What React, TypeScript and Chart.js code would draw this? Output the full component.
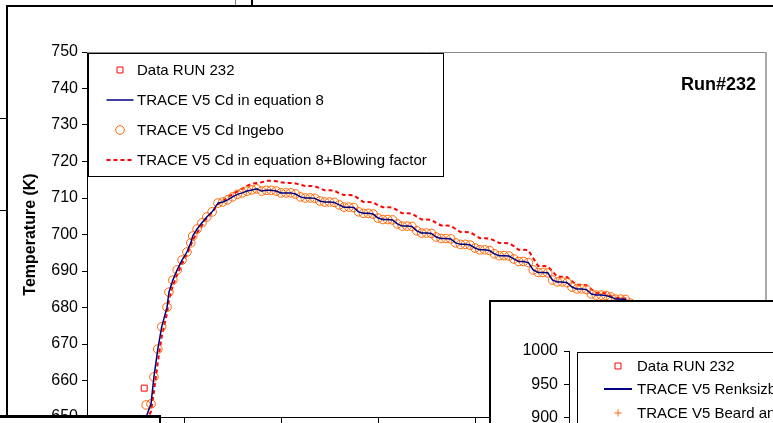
import React, { useEffect, useRef } from 'react';
import { Chart, registerables } from 'chart.js';

Chart.register(...registerables);

const FONT = '"Liberation Sans", Arial, sans-serif';

// ---------- main chart data (time axis 0..700, temperature K) ----------
const dataT = [59];
const dataK = [657.9];

const timeS = [
  61, 66, 69, 73, 77, 82.5, 84.5, 88.5, 93, 98, 103, 107, 109, 113.5, 118.5, 123.5, 129, 135,
  140, 145, 150, 155, 160, 165, 170, 175, 180, 185, 190, 195,
  200, 205, 210, 215, 220, 225, 230, 235, 240, 245, 250, 255, 260, 265, 270, 275,
  280, 285, 290, 295, 300, 305, 310, 315, 320, 325, 330, 335, 340, 345, 350, 355,
  360, 365, 370, 375, 380, 385, 390, 395, 400, 405, 410, 415, 420, 425, 430, 435,
  440, 445, 450, 455, 460, 465, 470, 475, 480, 485, 490, 495, 500, 505, 510, 515,
  520, 525, 530, 535, 540, 545, 550, 555, 560, 565, 570, 575, 580, 585, 590, 595,
];

const cdEq8K = [
  650.0, 653.6, 661.0, 668.6, 674.7, 680.1, 684.2, 687.5, 690.3, 693.0, 695.2, 697.7, 699.6, 701.5, 703.2, 704.8, 706.2, 708.6,
  708.9, 709.5, 710.3, 711.0, 711.4, 711.9, 712.2, 712.5, 711.9, 712.1, 712.1, 711.9,
  711.4, 711.4, 711.4, 711.1, 710.3, 710.0, 710.0, 709.9, 709.2, 708.9, 708.9, 708.8, 708.1, 707.5, 707.5, 707.4,
  706.2, 705.8, 705.8, 705.6, 704.5, 704.1, 704.1, 704.0, 702.9, 702.3, 702.3, 702.2, 701.0, 700.4, 700.4, 700.3,
  699.3, 698.9, 698.9, 698.8, 697.7, 697.3, 697.3, 697.1, 696.3, 695.8, 695.8, 695.6, 694.7, 694.2, 694.2, 694.1,
  693.3, 692.6, 692.6, 692.3, 690.3, 689.6, 689.6, 689.5, 687.5, 687.0, 687.0, 686.8, 685.6, 685.1, 685.1, 684.9,
  683.7, 683.4, 683.4, 683.3, 682.9, 682.3, 682.3, 682.2, 681.2, 680.4, 680.4, 680.3, 679.0, 678.5, 678.5, 678.2,
];

const ingeboK = [
  653.3, 653.6, 661.0, 668.6, 674.7, 680.1, 684.2, 687.5, 690.3, 693.0, 695.2, 697.7, 699.6, 701.5, 703.2, 704.8, 706.2, 708.6,
  708.9, 709.5, 710.3, 711.0, 711.4, 711.9, 712.2, 712.5, 711.9, 712.1, 712.1, 711.9,
  711.4, 711.4, 711.4, 711.1, 710.3, 710.0, 710.0, 709.9, 709.2, 708.9, 708.9, 708.8, 708.1, 707.5, 707.5, 707.4,
  706.2, 705.8, 705.8, 705.6, 704.5, 704.1, 704.1, 704.0, 702.9, 702.3, 702.3, 702.2, 701.0, 700.4, 700.4, 700.3,
  699.3, 698.9, 698.9, 698.8, 697.7, 697.3, 697.3, 697.1, 696.3, 695.8, 695.8, 695.6, 694.7, 694.2, 694.2, 694.1,
  693.3, 692.6, 692.6, 692.3, 690.3, 689.6, 689.6, 689.5, 687.5, 687.0, 687.0, 686.8, 685.6, 685.1, 685.1, 684.9,
  683.7, 683.4, 683.4, 683.3, 682.9, 682.3, 682.3, 682.2, 681.2, 680.4, 680.4, 680.3, 679.0, 678.5, 678.5, 678.2,
];

const blowK = [
  649.0, 651.5, 657.0, 665.0, 672.0, 678.5, 682.0, 686.0, 689.0, 692.0, 694.5, 697.0, 698.5, 700.5, 702.5, 704.5, 706.0, 708.3,
  709.2, 710.2, 711.0, 711.8, 712.6, 713.3, 713.9, 714.1, 714.3, 714.7, 714.7, 714.6,
  714.3, 714.1, 714.1, 714.0, 713.6, 713.3, 713.3, 713.2, 712.7, 712.1, 712.1, 712.0, 711.3, 710.8, 710.8, 710.7,
  709.8, 708.9, 708.9, 708.8, 708.0, 707.5, 707.5, 707.4, 706.6, 705.8, 705.8, 705.7, 704.9, 704.1, 704.1, 704.0,
  703.2, 702.5, 702.5, 702.4, 701.5, 700.7, 700.7, 700.6, 699.8, 699.0, 699.0, 698.9, 698.3, 697.7, 697.7, 697.6,
  696.8, 695.8, 695.8, 695.7, 693.5, 691.4, 691.4, 691.3, 689.8, 688.4, 688.4, 688.3, 687.2, 686.2, 686.2, 686.1,
  685.0, 684.0, 684.0, 683.9, 683.2, 682.6, 682.6, 682.5, 681.7, 681.0, 681.0, 680.9, 679.8, 679.3, 679.3, 679.2,
];

const mainLabels = [
  'Data RUN 232',
  'TRACE V5 Cd in equation 8',
  'TRACE V5 Cd Ingebo',
  'TRACE V5 Cd in equation 8+Blowing factor',
];
const mainTitle = 'Run#232';
const yTitle = 'Temperature (K)';

// ---------- second (overlapping) chart ----------
const subLabels = ['Data RUN 232', 'TRACE V5 Renksizbulut-Yuen', 'TRACE V5 Beard and Pruppacher'];
const subDataT: number[] = [];
const subDataK: number[] = [];
const subRenkK: number[] = [];
const subBeardK: number[] = [];

const pts = (xs: number[], ys: number[]) => xs.map((x, i) => ({ x, y: ys[i] }));

function drawEntry(ctx: CanvasRenderingContext2D, ds: any, y: number, symX: number, half: number, textX: number) {
  ctx.save();
  if (ds.showLine) {
    ctx.strokeStyle = ds.borderColor;
    ctx.lineWidth = ds.borderWidth;
    ctx.setLineDash(ds.borderDash || []);
    ctx.beginPath();
    ctx.moveTo(symX - half, y);
    ctx.lineTo(symX + half, y);
    ctx.stroke();
  } else {
    ctx.setLineDash([]);
    ctx.strokeStyle = ds.pointBorderColor;
    ctx.lineWidth = ds.pointBorderWidth;
    const r = ds.pointRadius;
    ctx.beginPath();
    if (ds.pointStyle === 'rect') {
      const s = r * Math.SQRT1_2;
      ctx.rect(symX - s, y - s, 2 * s, 2 * s);
    } else if (ds.pointStyle === 'cross') {
      ctx.moveTo(symX - r, y);
      ctx.lineTo(symX + r, y);
      ctx.moveTo(symX, y - r);
      ctx.lineTo(symX, y + r);
    } else {
      ctx.arc(symX, y, r, 0, Math.PI * 2);
    }
    ctx.stroke();
  }
  ctx.setLineDash([]);
  ctx.fillStyle = '#000';
  ctx.font = `15px ${FONT}`;
  ctx.textAlign = 'left';
  ctx.textBaseline = 'middle';
  ctx.fillText(ds.label, textX, y + 1);
  ctx.restore();
}

const mainDecor = {
  id: 'mainDecor',
  beforeDatasetsDraw(chart: any) {
    const { ctx, chartArea: a } = chart;
    ctx.save();
    ctx.strokeStyle = '#8c8c8c';
    ctx.lineWidth = 1;
    ctx.beginPath();
    ctx.moveTo(a.left, a.top + 0.5);
    ctx.lineTo(a.right, a.top + 0.5);
    ctx.stroke();
    ctx.strokeStyle = '#a8a8a8';
    ctx.lineWidth = 2;
    ctx.beginPath();
    ctx.moveTo(a.right, a.top);
    ctx.lineTo(a.right, a.bottom);
    ctx.stroke();
    ctx.restore();
  },
  afterDraw(chart: any) {
    const { ctx, chartArea: a } = chart;
    ctx.save();
    const bx = Math.round(a.left + 1) + 0.5;
    const by = Math.round(a.top + 1) + 0.5;
    ctx.fillStyle = '#fff';
    ctx.fillRect(bx, by, 355, 123);
    ctx.strokeStyle = '#000';
    ctx.lineWidth = 1;
    ctx.strokeRect(bx, by, 355, 123);
    chart.data.datasets.forEach((ds: any, i: number) => {
      drawEntry(ctx, ds, a.top + 18 + i * 30, a.left + 33, 13.5, a.left + 50);
    });
    ctx.fillStyle = '#000';
    ctx.font = `bold 18px ${FONT}`;
    ctx.textAlign = 'right';
    ctx.textBaseline = 'middle';
    ctx.fillText(mainTitle, a.right - 10, a.top + 33);
    ctx.restore();
  },
};

const subDecor = {
  id: 'subDecor',
  afterDraw(chart: any) {
    const { ctx, chartArea: a } = chart;
    ctx.save();
    const bx = Math.round(a.left + 8) + 0.5;
    const by = Math.round(a.top + 1) + 0.5;
    ctx.fillStyle = '#fff';
    ctx.fillRect(bx, by, 400, 150);
    ctx.strokeStyle = '#000';
    ctx.lineWidth = 1;
    ctx.strokeRect(bx, by, 400, 150);
    const ys = [15, 38, 62];
    chart.data.datasets.forEach((ds: any, i: number) => {
      drawEntry(ctx, ds, a.top + ys[i], a.left + 49, 14, a.left + 68);
    });
    ctx.restore();
  },
};

const abs = (l: number, t: number, w: number, h: number, extra: any = {}) => ({
  position: 'absolute' as const,
  left: l,
  top: t,
  width: w,
  height: h,
  boxSizing: 'border-box' as const,
  ...extra,
});

const fixY = (w: number) => (s: any) => {
  s.width = w;
  s.paddingTop = 0;
  s.paddingBottom = 0;
};
const fixX = (s: any) => {
  s.height = 6;
  s.paddingLeft = 0;
  s.paddingRight = 0;
};

export default function App() {
  const mainRef = useRef<HTMLCanvasElement>(null);
  const subRef = useRef<HTMLCanvasElement>(null);

  useEffect(() => {
    const main = new Chart(mainRef.current as HTMLCanvasElement, {
      type: 'scatter',
      data: {
        datasets: [
          {
            label: mainLabels[0],
            data: pts(dataT, dataK),
            showLine: false,
            pointStyle: 'rect',
            pointRadius: 4.2,
            pointBorderColor: '#FF0000',
            pointBackgroundColor: 'rgba(0,0,0,0)',
            pointBorderWidth: 1,
          },
          {
            label: mainLabels[1],
            data: pts(timeS, cdEq8K),
            showLine: true,
            borderColor: '#000080',
            borderWidth: 1.5,
            pointRadius: 0,
          },
          {
            label: mainLabels[2],
            data: pts(timeS, ingeboK),
            showLine: false,
            pointStyle: 'circle',
            pointRadius: 4.3,
            pointBorderColor: '#FF6600',
            pointBackgroundColor: 'rgba(0,0,0,0)',
            pointBorderWidth: 1,
          },
          {
            label: mainLabels[3],
            data: pts(timeS, blowK),
            showLine: true,
            borderColor: '#FF0000',
            borderWidth: 2,
            borderDash: [4, 3],
            pointRadius: 0,
          },
        ] as any,
      },
      options: {
        responsive: false,
        animation: false,
        events: [],
        layout: { padding: { top: 45, right: 7, left: 0, bottom: 0 } },
        plugins: { legend: { display: false }, tooltip: { enabled: false } },
        scales: {
          x: {
            type: 'linear',
            min: 0,
            max: 700,
            ticks: { display: false, stepSize: 100 },
            grid: { drawOnChartArea: false, drawTicks: true, tickLength: 6, color: '#000' },
            border: { display: true, color: '#000', width: 1 },
            afterFit: fixX,
          },
          y: {
            min: 650,
            max: 750,
            ticks: {
              stepSize: 10,
              color: '#000',
              font: { family: FONT, size: 16 },
              padding: 4,
              callback: (v: any) => String(v),
            },
            grid: { drawOnChartArea: false, tickLength: 5, color: '#000' },
            border: { display: true, color: '#000', width: 1 },
            title: {
              display: true,
              text: yTitle,
              color: '#000',
              font: { family: FONT, size: 16, weight: 'bold' },
              padding: { top: 13, bottom: 0 },
            },
            afterFit: fixY(79),
          },
        },
      } as any,
      plugins: [mainDecor],
    });

    const sub = new Chart(subRef.current as HTMLCanvasElement, {
      type: 'scatter',
      data: {
        datasets: [
          {
            label: subLabels[0],
            data: pts(subDataT, subDataK),
            showLine: false,
            pointStyle: 'rect',
            pointRadius: 4.2,
            pointBorderColor: '#FF0000',
            pointBackgroundColor: 'rgba(0,0,0,0)',
            pointBorderWidth: 1,
          },
          {
            label: subLabels[1],
            data: pts(subDataT, subRenkK),
            showLine: true,
            borderColor: '#000080',
            borderWidth: 2,
            pointRadius: 0,
          },
          {
            label: subLabels[2],
            data: pts(subDataT, subBeardK),
            showLine: false,
            pointStyle: 'cross',
            pointRadius: 3.5,
            pointBorderColor: '#FF6600',
            pointBorderWidth: 1,
          },
        ] as any,
      },
      options: {
        responsive: false,
        animation: false,
        events: [],
        layout: { padding: { top: 49, right: 0, left: 0, bottom: 0 } },
        plugins: { legend: { display: false }, tooltip: { enabled: false } },
        scales: {
          x: {
            type: 'linear',
            min: 0,
            max: 700,
            ticks: { display: false, stepSize: 100 },
            grid: { drawOnChartArea: false, tickLength: 6, color: '#000' },
            border: { display: true, color: '#000', width: 1 },
            afterFit: fixX,
          },
          y: {
            min: 500,
            max: 1000,
            ticks: {
              stepSize: 50,
              color: '#000',
              font: { family: FONT, size: 16 },
              padding: 6,
              callback: (v: any) => String(v),
            },
            grid: { drawOnChartArea: false, tickLength: 5, color: '#000' },
            border: { display: true, color: '#000', width: 1 },
            afterFit: fixY(78),
          },
        },
      } as any,
      plugins: [subDecor],
    });

    return () => {
      main.destroy();
      sub.destroy();
    };
  }, []);

  return (
    <div
      style={{
        position: 'fixed',
        left: 0,
        top: 0,
        width: 773,
        height: 423,
        overflow: 'hidden',
        background: '#fff',
        fontFamily: FONT,
      }}
    >
      {/* background window edges */}
      <div style={abs(235, 0, 1, 6, { background: '#808080' })} />
      <div style={abs(251, 0, 2, 6, { background: '#000' })} />
      <div style={abs(0, 118, 6, 1, { background: '#000' })} />
      <div style={abs(0, 210, 6, 1, { background: '#000' })} />
      {/* main chart frame */}
      <div
        style={abs(6, 5, 820, 480, {
          borderTop: '2px solid #000',
          borderLeft: '2px solid #000',
          background: '#fff',
        })}
      />
      <canvas ref={mainRef} width={765} height={416} style={abs(8, 7, 765, 416)} />
      {/* bottom-left overlapping window */}
      <div
        style={abs(0, 415, 161, 20, {
          borderTop: '3px solid #000',
          borderRight: '2px solid #000',
          background: '#fff',
        })}
      />
      {/* bottom-right overlapping chart */}
      <div
        style={abs(489, 300, 320, 420, {
          borderTop: '2px solid #000',
          borderLeft: '2px solid #000',
          background: '#fff',
          overflow: 'hidden',
        })}
      >
        <canvas ref={subRef} width={300} height={390} style={abs(0, 0, 300, 390)} />
      </div>
    </div>
  );
}
